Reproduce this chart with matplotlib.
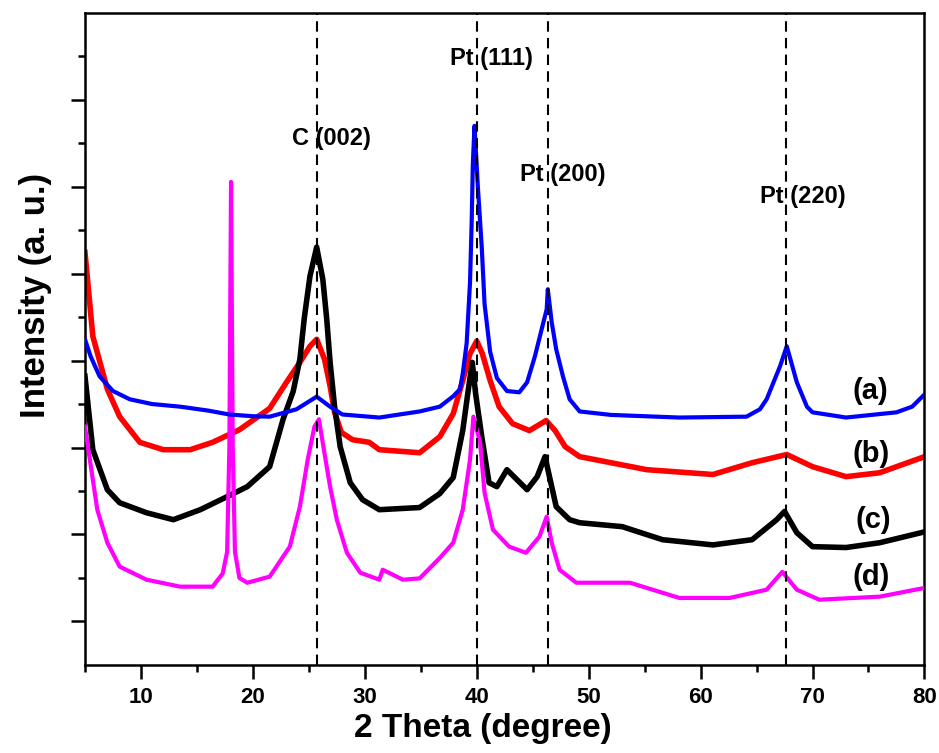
import matplotlib
matplotlib.use("Agg")
import matplotlib.pyplot as plt
from matplotlib.ticker import FixedLocator

# 2 theta (deg) and intensity (a.u., offset)
x_a = [5.0, 5.5, 6.3, 7.5, 9.0, 11.0, 13.5, 16.0, 17.9, 20.0, 21.5, 23.9, 25.7, 26.9, 28.0,
       31.3, 34.9, 36.7, 37.9, 38.5, 38.75, 39.1, 39.4, 39.55, 39.65, 39.8, 40.1, 40.45, 40.7,
       41.2, 41.8, 42.7, 43.8, 44.5, 45.2, 45.8, 46.25, 46.35, 46.7, 47.1, 47.7, 48.3, 49.2,
       52.0, 58.1, 64.1, 65.3, 65.9, 67.1, 67.7, 68.6, 69.5, 70.0, 73.0, 77.5, 78.9, 80.0]
y_a = [7.49, 7.10, 6.64, 6.30, 6.11, 6.00, 5.94, 5.85, 5.76, 5.72, 5.71, 5.88, 6.17, 5.94, 5.76,
       5.69, 5.83, 5.94, 6.18, 6.34, 6.70, 7.40, 8.80, 10.20, 11.50, 12.40, 11.00, 9.60, 8.30,
       7.20, 6.60, 6.30, 6.27, 6.50, 7.10, 7.72, 8.18, 8.64, 7.88, 7.26, 6.64, 6.11, 5.83,
       5.75, 5.69, 5.71, 5.88, 6.11, 6.87, 7.33, 6.50, 5.94, 5.81, 5.69, 5.81, 5.94, 6.22]

x_b = [5.0, 5.7, 7.0, 8.1, 9.9, 12.0, 14.4, 16.4, 18.8, 21.5, 23.0, 24.2, 25.1, 25.7, 26.4,
       26.9, 27.3, 27.9, 28.9, 30.4, 31.3, 34.9, 36.7, 37.9, 38.75, 39.4, 40.0, 40.5, 41.2,
       42.0, 43.2, 44.7, 46.2, 47.0, 47.9, 49.2, 55.2, 61.1, 64.6, 67.7, 70.0, 73.0, 76.0,
       80.0]
y_b = [9.49, 7.56, 6.34, 5.71, 5.12, 4.95, 4.95, 5.12, 5.41, 5.90, 6.50, 6.96, 7.33, 7.49, 7.03,
       6.41, 5.81, 5.35, 5.18, 5.12, 4.95, 4.88, 5.25, 5.78, 6.54, 7.16, 7.45, 7.16, 6.54,
       5.94, 5.55, 5.39, 5.62, 5.39, 5.02, 4.79, 4.49, 4.38, 4.65, 4.84, 4.56, 4.33, 4.42,
       4.79]

x_c = [5.0, 5.7, 7.0, 8.1, 10.5, 12.9, 15.3, 17.7, 19.5, 21.5, 22.7, 23.6, 24.2, 24.6, 25.1,
       25.7, 26.25, 26.6, 26.9, 27.3, 27.8, 28.7, 29.8, 31.3, 34.9, 36.7, 37.9, 38.75, 39.2,
       39.6, 39.9, 40.45, 41.1, 41.8, 42.7, 43.6, 44.5, 45.4, 46.1, 46.5, 47.1, 48.3, 49.2,
       53.0, 56.6, 61.1, 64.6, 66.8, 67.5, 68.6, 70.0, 73.0, 76.0, 80.0]
y_c = [6.64, 4.95, 4.03, 3.73, 3.50, 3.34, 3.57, 3.87, 4.10, 4.56, 5.65, 6.29, 7.03, 7.99, 8.94,
       9.61, 8.87, 7.95, 6.96, 5.94, 5.02, 4.19, 3.80, 3.57, 3.62, 3.94, 4.31, 5.39, 6.24,
       6.96, 6.24, 5.25, 4.19, 4.10, 4.49, 4.26, 4.03, 4.33, 4.79, 4.33, 3.64, 3.34, 3.27,
       3.18, 2.88, 2.76, 2.88, 3.34, 3.53, 3.04, 2.72, 2.70, 2.81, 3.06]

x_d = [5.0, 6.1, 7.0, 8.1, 10.5, 13.5, 16.4, 17.3, 17.7, 17.9, 18.05, 18.2, 18.4, 18.8, 19.5,
       21.5, 23.3, 24.2, 24.9, 25.5, 25.9, 26.3, 26.9, 27.5, 28.4, 29.6, 31.3, 31.6, 33.4,
       34.9, 36.7, 37.9, 38.75, 39.4, 39.7, 40.3, 40.7, 41.45, 42.9, 44.4, 45.6, 46.25, 46.7,
       47.4, 48.9, 53.7, 58.1, 62.6, 65.9, 67.3, 68.6, 70.6, 76.0, 80.0]
y_d = [5.48, 3.57, 2.81, 2.26, 1.96, 1.80, 1.80, 2.10, 2.60, 5.00, 11.11, 5.00, 2.60, 2.00, 1.89,
       2.03, 2.72, 3.64, 4.72, 5.48, 5.65, 5.02, 4.10, 3.34, 2.58, 2.12, 1.96, 2.19, 1.96,
       1.99, 2.46, 2.81, 3.57, 4.72, 5.71, 5.12, 3.96, 3.11, 2.72, 2.58, 2.95, 3.41, 2.81,
       2.19, 1.89, 1.89, 1.54, 1.54, 1.73, 2.14, 1.73, 1.50, 1.57, 1.77]

peak_pos = [25.7, 40.0, 46.4, 67.6]
peak_names = ["C (002)", "Pt (111)", "Pt (200)", "Pt (220)"]
sample_names = ["(a)", "(b)", "(c)", "(d)"]

plt.rcParams["font.family"] = ["Liberation Sans", "DejaVu Sans"]
plt.rcParams["font.weight"] = "bold"

fig = plt.figure(figsize=(9.39, 7.53), dpi=100)
ax = fig.add_axes([0.0905, 0.117, 0.894, 0.866])

ax.plot(x_b, y_b, color="#ff0000", lw=4, zorder=2)
ax.plot(x_c, y_c, color="black", lw=4, zorder=3)
ax.plot(x_d, y_d, color="#ff00ff", lw=3, zorder=4)
ax.plot(x_a, y_a, color="#0000ff", lw=3, zorder=5)

for p in peak_pos:
    ax.axvline(p, color="black", lw=1.5, ls=(0, (5, 3)), zorder=6)

# peak labels
ax.text(27.05, 12.10, peak_names[0], ha="center", va="center", fontsize=17, fontweight="bold")
ax.text(41.34, 13.94, peak_names[1], ha="center", va="center", fontsize=17, fontweight="bold")
ax.text(47.68, 11.29, peak_names[2], ha="center", va="center", fontsize=17, fontweight="bold")
ax.text(69.11, 10.78, peak_names[3], ha="center", va="center", fontsize=17, fontweight="bold")

# sample labels
ax.text(75.18, 6.29, sample_names[0], ha="center", va="center", fontsize=21, fontweight="bold")
ax.text(75.27, 4.84, sample_names[1], ha="center", va="center", fontsize=21, fontweight="bold")
ax.text(75.45, 3.34, sample_names[2], ha="center", va="center", fontsize=21, fontweight="bold")
ax.text(75.27, 2.03, sample_names[3], ha="center", va="center", fontsize=21, fontweight="bold")

ax.set_xlim(5, 80)
ax.set_ylim(0, 15)
ax.xaxis.set_major_locator(FixedLocator([10, 20, 30, 40, 50, 60, 70, 80]))
ax.xaxis.set_minor_locator(FixedLocator([5, 15, 25, 35, 45, 55, 65, 75]))
ax.yaxis.set_major_locator(FixedLocator([1, 3, 5, 7, 9, 11, 13]))
ax.yaxis.set_minor_locator(FixedLocator([2, 4, 6, 8, 10, 12, 14]))
ax.set_yticklabels([])
ax.tick_params(which="major", direction="out", length=10, width=1.8)
ax.tick_params(which="minor", direction="out", length=5, width=1.8)
ax.tick_params(top=False, right=False, which="both")
ax.tick_params(axis="x", pad=6, labelsize=16)

for s in ax.spines.values():
    s.set_linewidth(1.8)

ax.set_xlabel("2 Theta (degree)", fontsize=24, fontweight="bold")
ax.xaxis.set_label_coords(0.474, -0.098)
ax.xaxis.label.set_va("center")
ax.set_ylabel("Intensity (a. u.)", fontsize=25, fontweight="bold")
ax.yaxis.set_label_coords(-0.0595, 0.567)
ax.yaxis.label.set_va("center")

fig.savefig("out.png", dpi=100)
